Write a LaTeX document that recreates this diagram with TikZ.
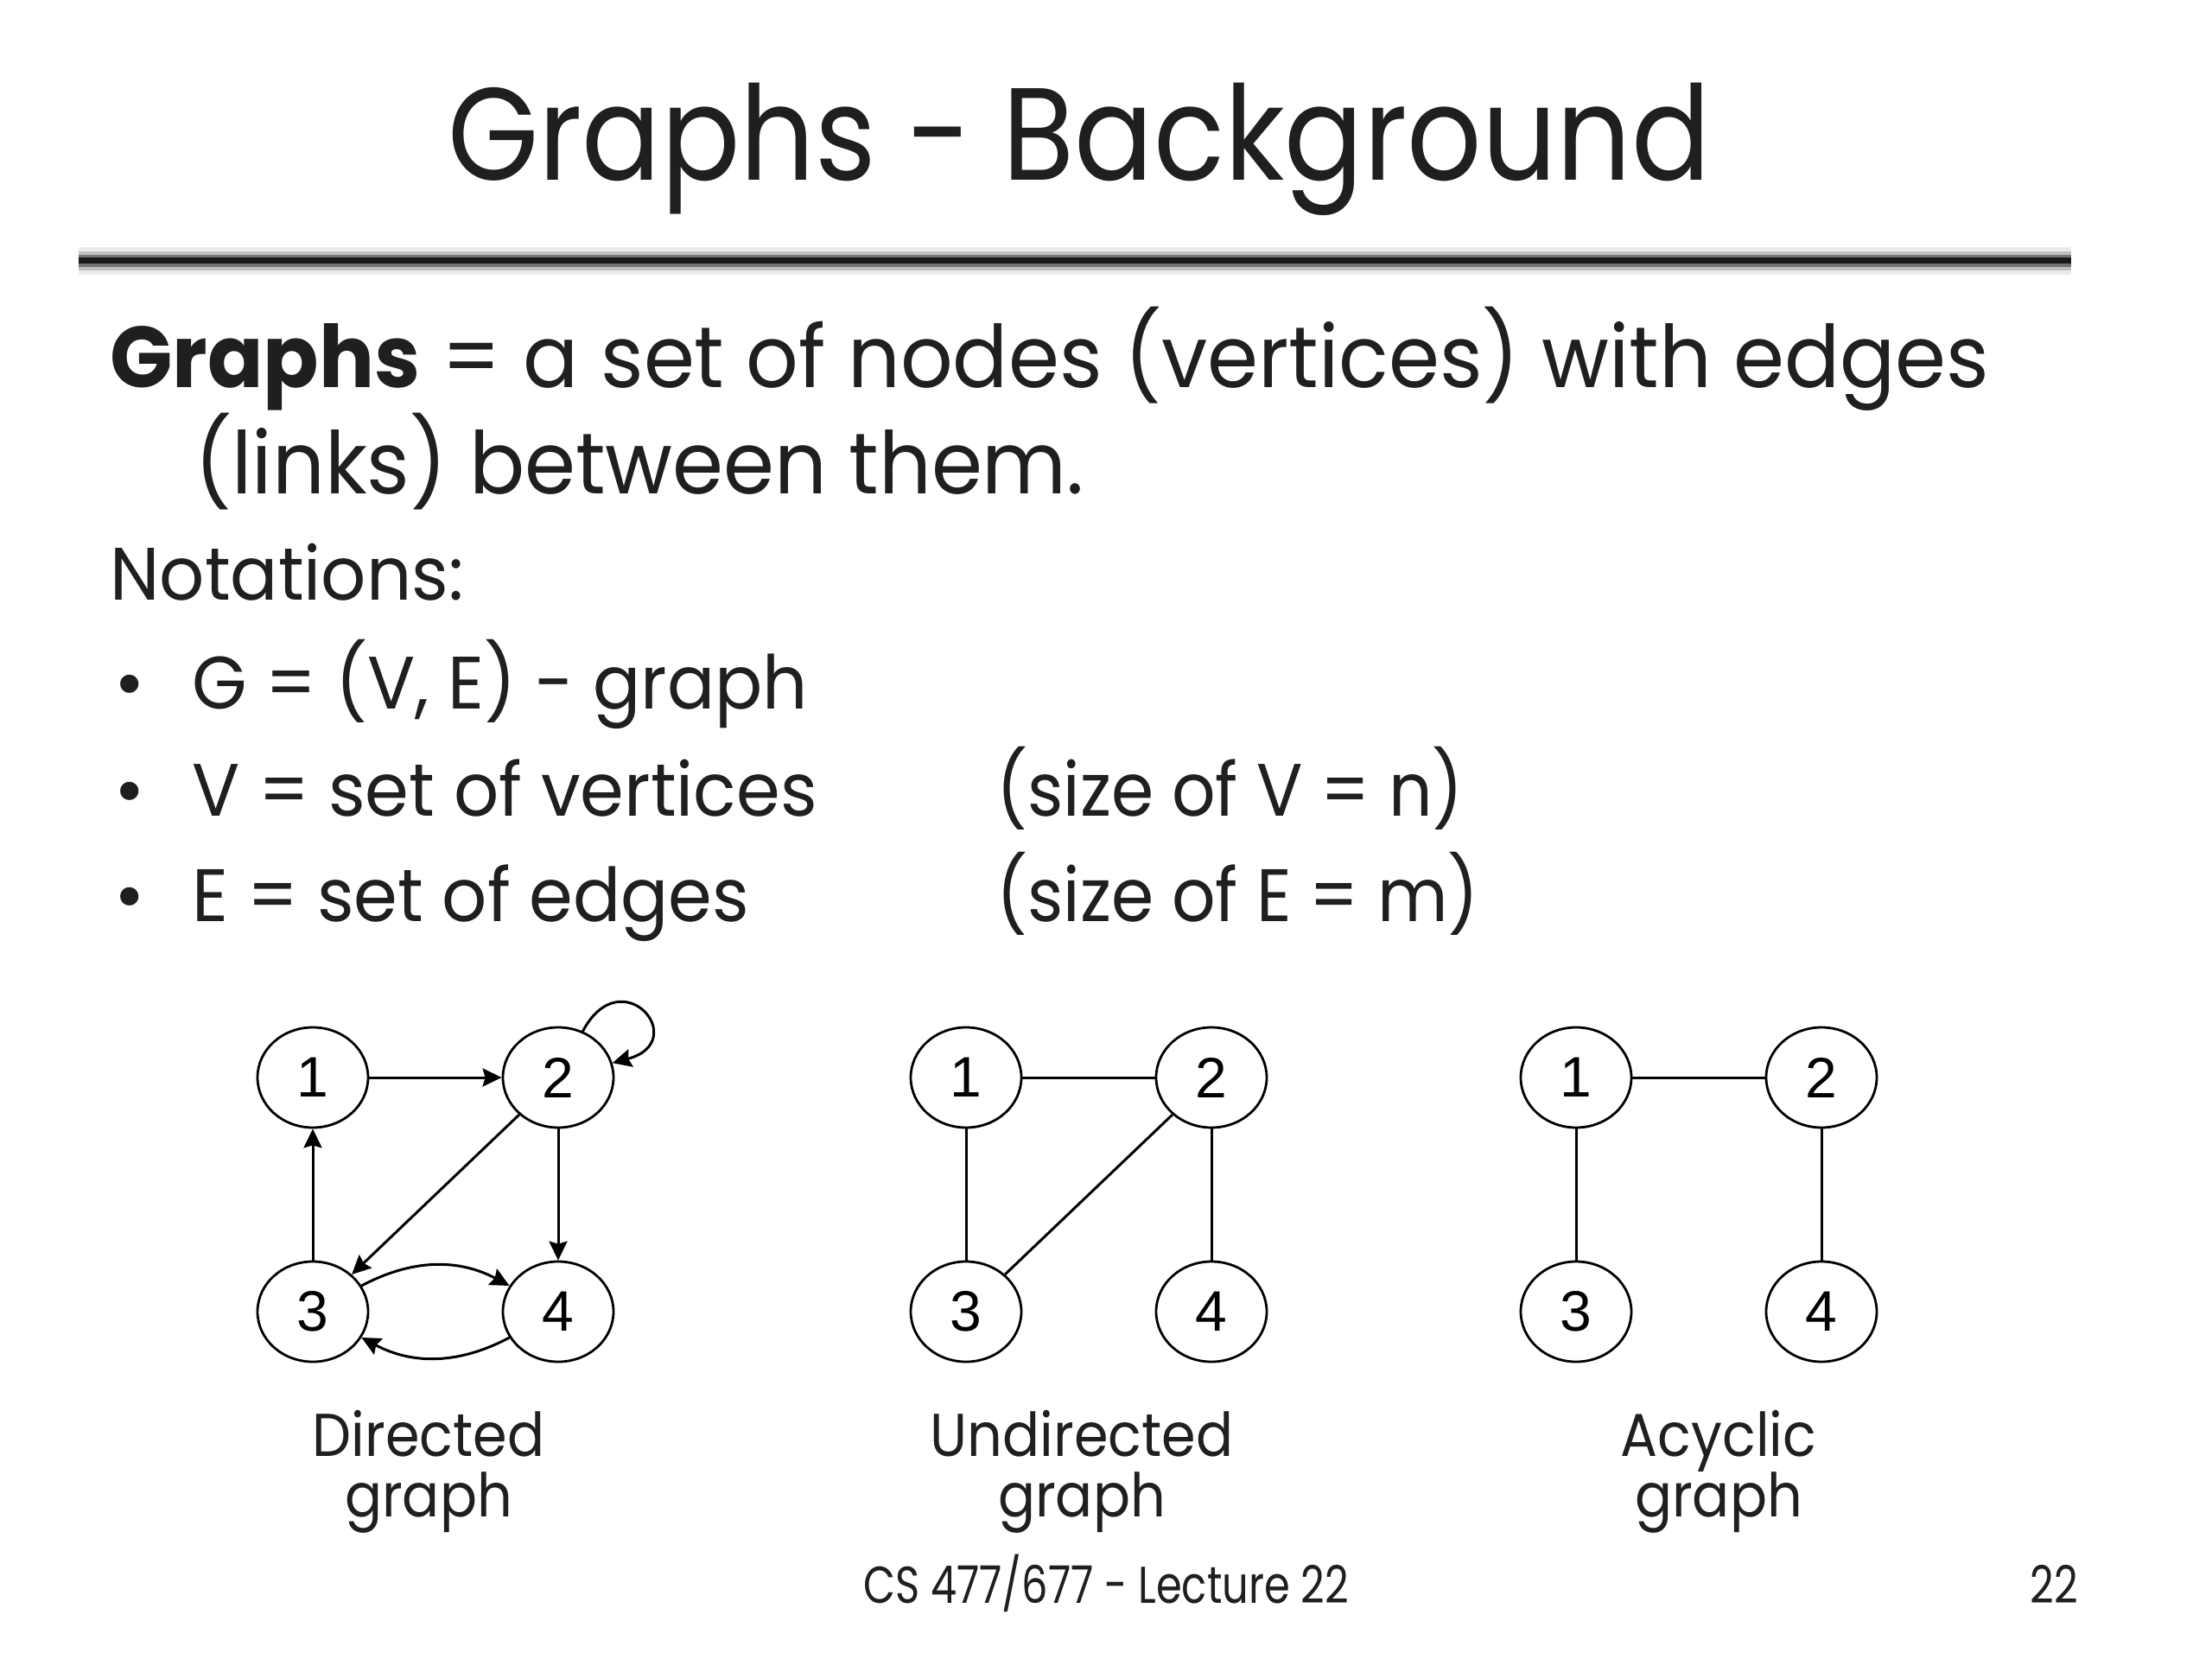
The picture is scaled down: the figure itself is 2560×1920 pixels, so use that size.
\documentclass[tikz,border=0pt]{standalone}
\usepackage{fontspec}
\usepackage{graphicx}
\setmainfont{Poppins}
\newfontfamily\digitfont{Liberation Sans}
\usetikzlibrary{arrows.meta,shapes.geometric}
\newcommand{\hsq}[2]{\scalebox{#1}[1]{#2}}
\begin{document}
\begin{tikzpicture}[x=0.5pt,y=0.5pt,
  txt/.style={inner sep=0pt,anchor=base west,text=black!88},
  titletxt/.style={inner sep=0pt,anchor=base,font=\fontsize{76}{90}\selectfont,text=black!88},
  bodytxt/.style={txt,font=\fontsize{50}{60}\selectfont},
  notetxt/.style={txt,font=\fontsize{43}{52}\selectfont},
  captxt/.style={inner sep=0pt,anchor=base,font=\fontsize{35}{42}\selectfont,text=black!88},
  foottxt/.style={inner sep=0pt,font=\fontsize{30}{36}\selectfont,text=black!88},
  vtx/.style={draw,ellipse,line width=1.4pt,minimum width=64pt,minimum height=58pt,inner sep=0pt,font=\digitfont\fontsize{33}{40}\selectfont},
  edg/.style={line width=1.5pt},
  arr/.style={edg,-{Stealth[inset=1.5pt,length=11pt,width=10.5pt]}}
]
\useasboundingbox[fill=white] (0,0) rectangle (2560,-1920);
% title
\node[titletxt] (title) at (1249,-209) {\hsq{0.89}{Graphs - Background}};
% rule
\draw[line width=16pt,black!8] (91,-302) -- (2397,-302);
\draw[line width=11pt,black!25] (91,-302) -- (2397,-302);
\draw[line width=7pt,black!55] (91,-302) -- (2397,-302);
\draw[line width=3.5pt,black!90] (91,-302) -- (2397,-302);
% body
\node[bodytxt] (l1) at (127,-449) {\hsq{0.95}{\textbf{Graphs} = a set of nodes (vertices) with edges}};
\node[bodytxt] (l2) at (225,-571) {\hsq{0.95}{(links) between them.}};
\node[notetxt] (nt) at (127,-694) {\hsq{0.95}{Notations:}};
\node[notetxt,anchor=base] (b1) at (150,-820) {•};
\node[notetxt,anchor=base] (b2) at (150,-944) {•};
\node[notetxt,anchor=base] (b3) at (150,-1066) {•};
\node[notetxt] (t1) at (222,-820) {\hsq{0.95}{G = (V, E) - graph}};
\node[notetxt] (t2) at (222,-944) {\hsq{0.95}{V = set of vertices}};
\node[notetxt] (t3) at (222,-1066) {\hsq{0.95}{E = set of edges}};
\node[notetxt] (s2) at (1153,-944) {\hsq{0.92}{(size of V = n)}};
\node[notetxt] (s3) at (1153,-1066) {\hsq{0.92}{(size of E = m)}};
% directed graph
\node[vtx] (d1) at (362,-1247) {1};
\node[vtx] (d2) at (646,-1247) {2};
\node[vtx] (d3) at (362,-1518) {3};
\node[vtx] (d4) at (646,-1518) {4};
\draw[arr] (d1) -- (d2);
\draw[arr] (d3) -- (d1);
\draw[arr] (d2) -- (d3);
\draw[arr] (d2) -- (d4);
\draw[arr] (d3) to[bend left=28] (d4);
\draw[arr] (d4) to[bend left=28] (d3);
\draw[arr] (d2) to[out=62,in=15,min distance=48pt] (d2);
\node[captxt] (c1a) at (496,-1685) {\hsq{0.91}{Directed}};
\node[captxt] (c1b) at (496,-1755) {\hsq{0.91}{graph}};
% undirected graph
\node[vtx] (u1) at (1118,-1247) {1};
\node[vtx] (u2) at (1402,-1247) {2};
\node[vtx] (u3) at (1118,-1518) {3};
\node[vtx] (u4) at (1402,-1518) {4};
\draw[edg] (u1) -- (u2);
\draw[edg] (u1) -- (u3);
\draw[edg] (u2) -- (u3);
\draw[edg] (u2) -- (u4);
\node[captxt] (c2a) at (1252,-1685) {\hsq{0.91}{Undirected}};
\node[captxt] (c2b) at (1252,-1755) {\hsq{0.91}{graph}};
% acyclic graph
\node[vtx] (a1) at (1824,-1247) {1};
\node[vtx] (a2) at (2108,-1247) {2};
\node[vtx] (a3) at (1824,-1518) {3};
\node[vtx] (a4) at (2108,-1518) {4};
\draw[edg] (a1) -- (a2);
\draw[edg] (a1) -- (a3);
\draw[edg] (a2) -- (a4);
\node[captxt] (c3a) at (1989,-1685) {\hsq{0.91}{Acyclic}};
\node[captxt] (c3b) at (1989,-1755) {\hsq{0.91}{graph}};
% footer
\node[foottxt,anchor=base] (foot) at (1280,-1855) {\hsq{0.8}{CS 477/677 - Lecture 22}};
\node[foottxt,anchor=base east] (page) at (2405,-1855) {\hsq{0.8}{22}};
\end{tikzpicture}
\end{document}
